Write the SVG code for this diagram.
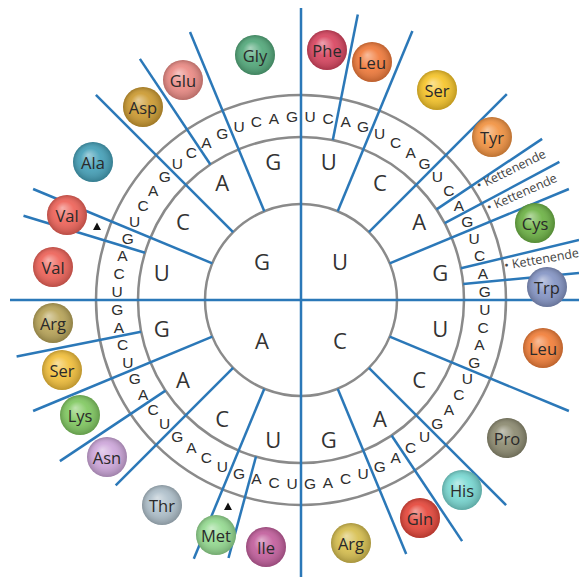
<svg xmlns="http://www.w3.org/2000/svg" width="579" height="577" viewBox="0 0 579 577">
<defs>
<radialGradient id="shine" cx="50%" cy="50%" r="50%" fx="38%" fy="32%">
<stop offset="0%" stop-color="#fff" stop-opacity="0.5"/>
<stop offset="50%" stop-color="#fff" stop-opacity="0.08"/>
<stop offset="100%" stop-color="#000" stop-opacity="0.22"/>
</radialGradient>
<style>
.ring{fill:none;stroke:#8a8a8a;stroke-width:2.5}
.ln{stroke:#2b78b8;stroke-width:2.5;stroke-linecap:butt}
.b1{font-family:"Open Sans","Liberation Sans",sans-serif;font-size:22px;fill:#333;text-anchor:middle;dominant-baseline:central}
.b3{font-family:"Liberation Sans",Arial,sans-serif;font-size:15.5px;fill:#2e2e2e;text-anchor:middle;dominant-baseline:central}
.aa text{font-family:"Open Sans","Liberation Sans",sans-serif;font-size:16.5px;fill:#2a2a2a;text-anchor:middle;dominant-baseline:central}
.sh{fill:url(#shine)}
.stop{font-family:"Open Sans","Liberation Sans",sans-serif;font-size:12.5px;fill:#444}
</style>
</defs>
<rect width="579" height="577" fill="#fff"/>
<g id="rings">
<circle class="ring" cx="301" cy="300" r="96"/>
<circle class="ring" cx="301" cy="300" r="163"/>
<circle class="ring" cx="301" cy="300" r="205"/>
</g>
<g id="connectors">
<line class="ln" x1="301" y1="8" x2="301" y2="577"/>
<line class="ln" x1="10" y1="300" x2="579" y2="300"/>
<line class="ln" x1="332.8" y1="140.1" x2="357.8" y2="14.6"/>
<line class="ln" x1="337.7" y1="211.3" x2="412.4" y2="31.1"/>
<line class="ln" x1="368.9" y1="232.1" x2="506.8" y2="94.2"/>
<line class="ln" x1="436.5" y1="209.4" x2="542.1" y2="138.9"/>
<line class="ln" x1="444.7" y1="223.2" x2="559.4" y2="161.9"/>
<line class="ln" x1="389.7" y1="263.3" x2="568.9" y2="189.0"/>
<line class="ln" x1="460.9" y1="268.2" x2="579" y2="240"/>
<line class="ln" x1="463.2" y1="284.0" x2="579" y2="273"/>
<line class="ln" x1="389.7" y1="336.7" x2="568.9" y2="411.0"/>
<line class="ln" x1="368.9" y1="367.9" x2="506.1" y2="505.1"/>
<line class="ln" x1="391.6" y1="435.5" x2="462.1" y2="541.1"/>
<line class="ln" x1="337.7" y1="388.7" x2="406.2" y2="554.1"/>
<line class="ln" x1="256.0" y1="456.5" x2="228.5" y2="558.0"/>
<line class="ln" x1="264.3" y1="388.7" x2="193.8" y2="558.7"/>
<line class="ln" x1="233.1" y1="367.9" x2="115.7" y2="485.3"/>
<line class="ln" x1="165.5" y1="390.6" x2="59.9" y2="461.1"/>
<line class="ln" x1="212.3" y1="336.7" x2="33.1" y2="411.0"/>
<line class="ln" x1="141.1" y1="331.8" x2="16.6" y2="356.6"/>
<line class="ln" x1="145.0" y1="252.7" x2="23.5" y2="215.8"/>
<line class="ln" x1="212.3" y1="263.3" x2="33.1" y2="189.0"/>
<line class="ln" x1="233.1" y1="232.1" x2="95.9" y2="94.9"/>
<line class="ln" x1="210.4" y1="164.5" x2="139.9" y2="58.9"/>
<line class="ln" x1="264.3" y1="211.3" x2="190.0" y2="32.1"/>
</g>
<g id="first-base">
<text class="b1" x="262" y="261">G</text>
<text class="b1" x="340" y="261">U</text>
<text class="b1" x="340" y="340">C</text>
<text class="b1" x="262" y="340">A</text>
</g>
<g id="second-base">
<text class="b1" x="328.7" y="160.7">U</text>
<text class="b1" x="379.9" y="181.9">C</text>
<text class="b1" x="419.1" y="221.1">A</text>
<text class="b1" x="440.3" y="272.3">G</text>
<text class="b1" x="440.3" y="327.7">U</text>
<text class="b1" x="419.1" y="378.9">C</text>
<text class="b1" x="379.9" y="418.1">A</text>
<text class="b1" x="328.7" y="439.3">G</text>
<text class="b1" x="273.3" y="439.3">U</text>
<text class="b1" x="222.1" y="418.1">C</text>
<text class="b1" x="182.9" y="378.9">A</text>
<text class="b1" x="161.7" y="327.7">G</text>
<text class="b1" x="161.7" y="272.3">U</text>
<text class="b1" x="182.9" y="221.1">C</text>
<text class="b1" x="222.1" y="181.9">A</text>
<text class="b1" x="273.3" y="160.7">G</text>
</g>
<g id="third-base">
<text class="b3" x="310.0" y="116.2">U</text>
<text class="b3" x="328.0" y="118.0">C</text>
<text class="b3" x="345.7" y="121.5">A</text>
<text class="b3" x="363.0" y="126.8">G</text>
<text class="b3" x="379.7" y="133.7">U</text>
<text class="b3" x="395.6" y="142.2">C</text>
<text class="b3" x="410.6" y="152.2">A</text>
<text class="b3" x="424.6" y="163.7">G</text>
<text class="b3" x="437.3" y="176.4">U</text>
<text class="b3" x="448.8" y="190.4">C</text>
<text class="b3" x="458.8" y="205.4">A</text>
<text class="b3" x="467.3" y="221.3">G</text>
<text class="b3" x="474.2" y="238.0">U</text>
<text class="b3" x="479.5" y="255.3">C</text>
<text class="b3" x="483.0" y="273.0">A</text>
<text class="b3" x="484.8" y="291.0">G</text>
<text class="b3" x="484.8" y="309.0">U</text>
<text class="b3" x="483.0" y="327.0">C</text>
<text class="b3" x="479.5" y="344.7">A</text>
<text class="b3" x="474.2" y="362.0">G</text>
<text class="b3" x="467.3" y="378.7">U</text>
<text class="b3" x="458.8" y="394.6">C</text>
<text class="b3" x="448.8" y="409.6">A</text>
<text class="b3" x="437.3" y="423.6">G</text>
<text class="b3" x="424.6" y="436.3">U</text>
<text class="b3" x="410.6" y="447.8">C</text>
<text class="b3" x="395.6" y="457.8">A</text>
<text class="b3" x="379.7" y="466.3">G</text>
<text class="b3" x="363.0" y="473.2">U</text>
<text class="b3" x="345.7" y="478.5">C</text>
<text class="b3" x="328.0" y="482.0">A</text>
<text class="b3" x="310.0" y="483.8">G</text>
<text class="b3" x="292.0" y="483.8">U</text>
<text class="b3" x="274.0" y="482.0">C</text>
<text class="b3" x="256.3" y="478.5">A</text>
<text class="b3" x="239.0" y="473.2">G</text>
<text class="b3" x="222.3" y="466.3">U</text>
<text class="b3" x="206.4" y="457.8">C</text>
<text class="b3" x="191.4" y="447.8">A</text>
<text class="b3" x="177.4" y="436.3">G</text>
<text class="b3" x="164.7" y="423.6">U</text>
<text class="b3" x="153.2" y="409.6">C</text>
<text class="b3" x="143.2" y="394.6">A</text>
<text class="b3" x="134.7" y="378.7">G</text>
<text class="b3" x="127.8" y="362.0">U</text>
<text class="b3" x="122.5" y="344.7">C</text>
<text class="b3" x="119.0" y="327.0">A</text>
<text class="b3" x="117.2" y="309.0">G</text>
<text class="b3" x="117.2" y="291.0">U</text>
<text class="b3" x="119.0" y="273.0">C</text>
<text class="b3" x="122.5" y="255.3">A</text>
<text class="b3" x="127.8" y="238.0">G</text>
<text class="b3" x="134.7" y="221.3">U</text>
<text class="b3" x="143.2" y="205.4">C</text>
<text class="b3" x="153.2" y="190.4">A</text>
<text class="b3" x="164.7" y="176.4">G</text>
<text class="b3" x="177.4" y="163.7">U</text>
<text class="b3" x="191.4" y="152.2">C</text>
<text class="b3" x="206.4" y="142.2">A</text>
<text class="b3" x="222.3" y="133.7">G</text>
<text class="b3" x="239.0" y="126.8">U</text>
<text class="b3" x="256.3" y="121.5">C</text>
<text class="b3" x="274.0" y="118.0">A</text>
<text class="b3" x="292.0" y="116.2">G</text>
</g>
<g id="stop-labels">
<text class="stop" x="479" y="190" transform="rotate(-26 479 190)">• Kettenende</text>
<text class="stop" x="489" y="212" transform="rotate(-24 489 212)">• Kettenende</text>
<text class="stop" x="505" y="270" transform="rotate(-10 505 270)">• Kettenende</text>
</g>
<g id="start-marks" fill="#111">
<polygon points="97,222.5 101,230 93,230"/>
<polygon points="228,502.5 232,510 224,510"/>
</g>
<g id="Gly" class="aa"><circle cx="255" cy="55" r="20" fill="#52a87a"/><circle class="sh" cx="255" cy="55" r="20"/><text x="255" y="55">Gly</text></g>
<g id="Glu" class="aa"><circle cx="183" cy="80" r="20" fill="#eb8a84"/><circle class="sh" cx="183" cy="80" r="20"/><text x="183" y="80">Glu</text></g>
<g id="Asp" class="aa"><circle cx="143" cy="107" r="20" fill="#cc9a30"/><circle class="sh" cx="143" cy="107" r="20"/><text x="143" y="107">Asp</text></g>
<g id="Ala" class="aa"><circle cx="93" cy="162" r="20" fill="#44a0b8"/><circle class="sh" cx="93" cy="162" r="20"/><text x="93" y="162">Ala</text></g>
<g id="Val-GUG" class="aa"><circle cx="67" cy="215" r="20" fill="#ee6258"/><circle class="sh" cx="67" cy="215" r="20"/><text x="67" y="215">Val</text></g>
<g id="Val" class="aa"><circle cx="53" cy="267" r="20" fill="#ee6258"/><circle class="sh" cx="53" cy="267" r="20"/><text x="53" y="267">Val</text></g>
<g id="Arg-AG" class="aa"><circle cx="53" cy="323" r="20" fill="#b8a458"/><circle class="sh" cx="53" cy="323" r="20"/><text x="53" y="323">Arg</text></g>
<g id="Ser-AG" class="aa"><circle cx="62" cy="370" r="20" fill="#f2bf3a"/><circle class="sh" cx="62" cy="370" r="20"/><text x="62" y="370">Ser</text></g>
<g id="Lys" class="aa"><circle cx="80" cy="415" r="20" fill="#80c860"/><circle class="sh" cx="80" cy="415" r="20"/><text x="80" y="415">Lys</text></g>
<g id="Asn" class="aa"><circle cx="107" cy="457" r="20" fill="#cda6da"/><circle class="sh" cx="107" cy="457" r="20"/><text x="107" y="457">Asn</text></g>
<g id="Thr" class="aa"><circle cx="162" cy="505" r="20" fill="#aebfca"/><circle class="sh" cx="162" cy="505" r="20"/><text x="162" y="505">Thr</text></g>
<g id="Met" class="aa"><circle cx="216" cy="535" r="20" fill="#94da90"/><circle class="sh" cx="216" cy="535" r="20"/><text x="216" y="535">Met</text></g>
<g id="Ile" class="aa"><circle cx="266" cy="547" r="20" fill="#c25e9c"/><circle class="sh" cx="266" cy="547" r="20"/><text x="266" y="547">Ile</text></g>
<g id="Arg-CG" class="aa"><circle cx="351" cy="543" r="20" fill="#d6be4e"/><circle class="sh" cx="351" cy="543" r="20"/><text x="351" y="543">Arg</text></g>
<g id="Gln" class="aa"><circle cx="420" cy="518" r="20" fill="#e6463a"/><circle class="sh" cx="420" cy="518" r="20"/><text x="420" y="518">Gln</text></g>
<g id="His" class="aa"><circle cx="462" cy="490" r="20" fill="#78d8d2"/><circle class="sh" cx="462" cy="490" r="20"/><text x="462" y="490">His</text></g>
<g id="Pro" class="aa"><circle cx="507" cy="438" r="20" fill="#8c8a70"/><circle class="sh" cx="507" cy="438" r="20"/><text x="507" y="438">Pro</text></g>
<g id="Leu-CU" class="aa"><circle cx="543" cy="348" r="20" fill="#f27e38"/><circle class="sh" cx="543" cy="348" r="20"/><text x="543" y="348">Leu</text></g>
<g id="Trp" class="aa"><circle cx="547" cy="287" r="20" fill="#8494c4"/><circle class="sh" cx="547" cy="287" r="20"/><text x="547" y="287">Trp</text></g>
<g id="Cys" class="aa"><circle cx="535" cy="223" r="20" fill="#6cb244"/><circle class="sh" cx="535" cy="223" r="20"/><text x="535" y="223">Cys</text></g>
<g id="Tyr" class="aa"><circle cx="492" cy="137" r="20" fill="#f29240"/><circle class="sh" cx="492" cy="137" r="20"/><text x="492" y="137">Tyr</text></g>
<g id="Ser-UC" class="aa"><circle cx="437" cy="90" r="20" fill="#f6c428"/><circle class="sh" cx="437" cy="90" r="20"/><text x="437" y="90">Ser</text></g>
<g id="Leu-UU" class="aa"><circle cx="372" cy="62" r="20" fill="#f17a3a"/><circle class="sh" cx="372" cy="62" r="20"/><text x="372" y="62">Leu</text></g>
<g id="Phe" class="aa"><circle cx="327" cy="50" r="20" fill="#d8445f"/><circle class="sh" cx="327" cy="50" r="20"/><text x="327" y="50">Phe</text></g>
</svg>
